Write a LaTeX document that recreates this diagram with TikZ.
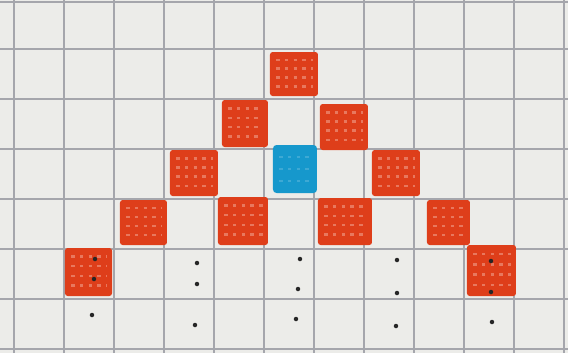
\documentclass[tikz,border=0pt]{standalone}
\usepackage{xcolor}
\usepackage{tikz}
\definecolor{paper}{RGB}{236,236,233}
\definecolor{gridline}{RGB}{165,166,172}
\definecolor{redink}{RGB}{222,62,26}
\definecolor{blueink}{RGB}{22,152,204}

\tikzset{
  redsq/.style={fill=redink, rounded corners=1.5pt},
  bluesq/.style={fill=blueink, rounded corners=2pt},
  hatch/.style={line width=1.4pt, dash pattern=on 2pt off 3pt, opacity=0.5},
  dot/.style={fill=black!85}
}

\begin{document}
\begin{tikzpicture}
  % Paper
  \fill[paper] (-0.28,-0.08) rectangle (11.08,6.98);
  \useasboundingbox (-0.28,-0.08) rectangle (11.08,6.98);

  % Grid
  \foreach \x in {0,...,11} {
    \draw[gridline, line width=1.1pt] (\x,-0.08) -- (\x,6.98);
  }
  \foreach \y in {0,...,6,6.94} {
    \draw[gridline, line width=1.1pt] (-0.28,\y) -- (11.08,\y);
  }

  % Red squares
  \foreach \xa/\ya/\xb/\yb in {5.12/5.06/6.08/5.94,
      4.16/4.04/5.08/4.98, 6.12/3.98/7.08/4.90,
      3.12/3.06/4.08/3.98, 7.16/3.06/8.12/3.98,
      2.12/2.08/3.06/2.98, 4.08/2.08/5.08/3.04,
      6.08/2.08/7.16/3.02, 8.26/2.08/9.12/2.98,
      1.02/1.06/1.96/2.02, 9.06/1.06/10.04/2.08} {
    \fill[redsq] (\xa,\ya) rectangle (\xb,\yb);
    \foreach \t in {0.22,0.42,0.62,0.82} {
      \draw[hatch, redink!40!white]
        ({\xa+0.12},{\ya+\t*(\yb-\ya)}) -- ({\xb-0.1},{\ya+\t*(\yb-\ya)});
    }
  }

  % Blue square (centre)
  \fill[bluesq] (5.18,3.12) rectangle (6.06,4.08);
  \foreach \t in {0.25,0.5,0.75} {
    \draw[hatch, blueink!50!white, opacity=0.35]
      (5.3,{3.12+\t*0.96}) -- (5.95,{3.12+\t*0.96});
  }

  % Dots below
  \foreach \x/\y in {1.62/1.80, 1.60/1.40, 1.56/0.68,
      3.66/1.72, 3.66/1.30, 3.62/0.48,
      5.72/1.80, 5.68/1.20, 5.64/0.60,
      7.66/1.78, 7.66/1.12, 7.64/0.46,
      9.54/1.76, 9.54/1.14, 9.56/0.54} {
    \fill[dot] (\x,\y) circle (0.045);
  }
\end{tikzpicture}
\end{document}
